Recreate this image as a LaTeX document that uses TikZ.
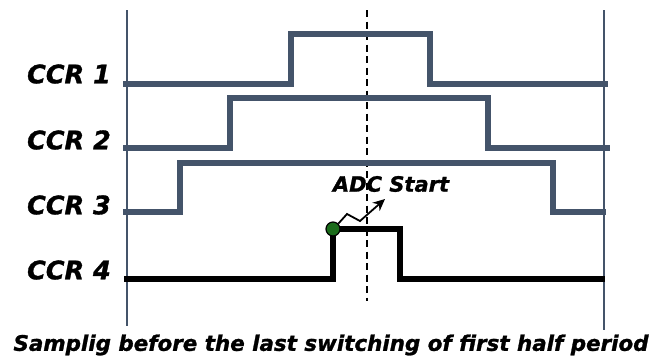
\documentclass[tikz,border=0pt]{standalone}
\usepackage{fontspec}
\setmainfont{DejaVu Sans}
\newfontfamily\heavyfont{DejaVu Sans}[BoldItalicFeatures={FakeBold=1.2}]
\usetikzlibrary{arrows.meta}
\definecolor{wave}{HTML}{44546A}
\definecolor{dotgreen}{HTML}{1A6B1A}
\tikzset{
  frame/.style={draw=wave, line width=1.6pt},
  wavel/.style={draw=wave, line width=5.5pt},
  sigl/.style={draw=black, line width=5.5pt},
  midline/.style={draw=black, line width=1.6pt, dash pattern=on 7pt off 4.5pt},
  lbl/.style={font=\heavyfont\fontsize{25.5}{27}\selectfont\bfseries\itshape, anchor=east, inner sep=0pt},
  adc/.style={font=\heavyfont\fontsize{21}{23}\selectfont\bfseries\itshape, inner sep=0pt},
  captiontext/.style={font=\heavyfont\fontsize{21.4}{23}\selectfont\bfseries\itshape, inner sep=0pt},
  sdot/.style={circle, fill=dotgreen, draw=black, line width=1.2pt, minimum size=14pt, inner sep=0pt},
  zz/.style={draw=black, line width=1.8pt, -{Stealth[length=12pt,width=11pt]}}
}
\begin{document}
\begin{tikzpicture}[x=1pt,y=-1pt]
\useasboundingbox (0,0) rectangle (656,359);
\draw[frame] (127,10) -- (127,326);
\draw[frame] (604,10) -- (604,330);
\draw[midline] (367,10) -- (367,301);
% waveforms
\draw[wavel] (123,84) -- (291,84) -- (291,34) -- (430,34) -- (430,84) -- (608,84);
\draw[wavel] (123,148) -- (230,148) -- (230,98) -- (488,98) -- (488,148) -- (610,148);
\draw[wavel] (123,212) -- (180,212) -- (180,163) -- (553,163) -- (553,212) -- (606,212);
\draw[sigl] (124,279) -- (333,279) -- (333,229) -- (400,229) -- (400,279) -- (605,279);
% labels
\node[lbl] (c1) at (111,74) {CCR 1};
\node[lbl] (c2) at (111,140) {CCR 2};
\node[lbl] (c3) at (111,205) {CCR 3};
\node[lbl] (c4) at (111,270) {CCR 4};
% ADC start
\node[sdot] (dot) at (333,229) {};
\node[adc] (adcs) at (391,184) {ADC Start};
\coordinate (tip) at (385,199);
\draw[zz] (dot.north east) -- (347,214) -- (360,221) -- (tip);
\node[captiontext] (caption) at (331,345) {Samplig before the last switching of first half period};
\end{tikzpicture}
\end{document}
